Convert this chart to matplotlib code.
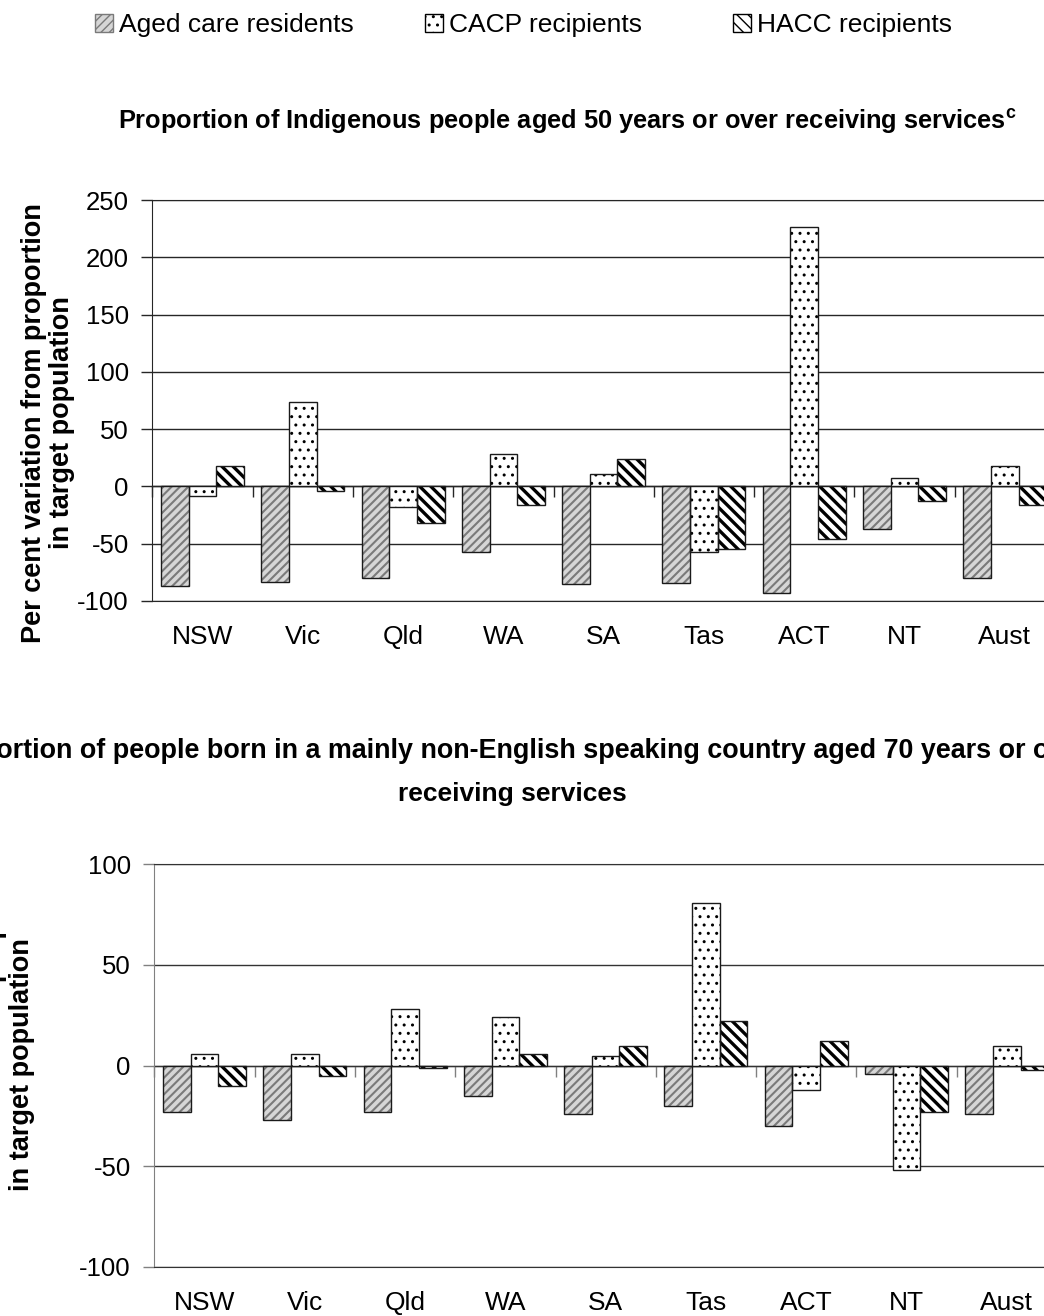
import matplotlib
matplotlib.use("Agg")
import matplotlib.pyplot as plt
import numpy as np
from matplotlib.patches import Patch

# Data
regions = ["NSW", "Vic", "Qld", "WA", "SA", "Tas", "ACT", "NT", "Aust"]
series_names = ["Aged care residents", "CACP recipients", "HACC recipients"]

indig_aged = [-87, -83, -80, -57, -85, -84, -93, -37, -80]
indig_cacp = [-8, 74, -18, 28, 11, -57, 226, 7, 18]
indig_hacc = [18, -4, -32, -16, 24, -55, -46, -13, -16]

nesb_aged = [-23, -27, -23, -15, -24, -20, -30, -4, -24]
nesb_cacp = [6, 6, 28, 24, 5, 81, -12, -52, 10]
nesb_hacc = [-10, -5, -1, 6, 10, 22, 12, -23, -2]

top_ticks = [-100, -50, 0, 50, 100, 150, 200, 250]
bottom_ticks = [-100, -50, 0, 50, 100]

FONT = "Liberation Sans"
W, H = 1044, 1316
BAR_W = 0.276

STYLES = [
    dict(face="#d6d6d6", hatch_color="#7a7a7a", hatch="////", hatch_lw=1.5),
    dict(face="white", hatch_color="#000000", hatch="..", hatch_lw=1.0),
    dict(face="white", hatch_color="#000000", hatch="\\\\\\", hatch_lw=2.4),
]

plt.rcParams["font.family"] = FONT
plt.rcParams["axes.unicode_minus"] = False
plt.rcParams["mathtext.fontset"] = "custom"
plt.rcParams["mathtext.bf"] = FONT + ":bold"
plt.rcParams["mathtext.rm"] = FONT


def px_box(left, top, right, bottom):
    return [left / W, 1 - bottom / H, (right - left) / W, (bottom - top) / H]


def draw_panel(ax, series, ticks, line_color, axis_color):
    x = np.arange(len(regions))
    for i, (values, style) in enumerate(zip(series, STYLES)):
        pos = x + (i - 1) * BAR_W
        bars = ax.bar(pos, values, BAR_W, color=style["face"],
                      edgecolor=style["hatch_color"], hatch=style["hatch"],
                      linewidth=0, zorder=2)
        for b in bars:
            if hasattr(b, "set_hatch_linewidth"):
                b.set_hatch_linewidth(style["hatch_lw"])
        ax.bar(pos, values, BAR_W, fill=False, edgecolor="#1a1a1a",
               linewidth=1.0, zorder=3)

    ax.set_xlim(-0.5, len(regions) - 0.5)
    ax.set_ylim(ticks[0], ticks[-1])
    ax.set_yticks(ticks)
    ax.set_xticks(x)
    ax.set_xticklabels(regions)
    ax.yaxis.grid(True, color=line_color, linewidth=1.0, zorder=0)
    ax.set_axisbelow(True)
    ax.spines["right"].set_visible(False)
    ax.spines["top"].set_color(line_color)
    ax.spines["bottom"].set_color(line_color)
    ax.spines["left"].set_color(axis_color)
    ax.tick_params(axis="x", length=0, pad=17, labelsize=19)
    ax.tick_params(axis="y", length=8, width=1.0, color=axis_color,
                   pad=9, labelsize=18.5)

    # category axis crosses at zero, with tick marks between categories
    zero = ax.secondary_xaxis(0, transform=ax.transData)
    zero.set_xticks(np.arange(len(regions) + 1) - 0.5)
    zero.set_xticklabels([])
    zero.tick_params(axis="x", direction="out", length=8, width=1.0,
                     color=axis_color)
    zero.spines["bottom"].set_color(axis_color)
    zero.spines["bottom"].set_linewidth(1.0)


fig = plt.figure(figsize=(W / 100, H / 100), dpi=100)

ax1 = fig.add_axes(px_box(152.3, 200, 1055, 601))
draw_panel(ax1, [indig_aged, indig_cacp, indig_hacc], top_ticks,
           "#262626", "#262626")

ax2 = fig.add_axes(px_box(154.3, 864.3, 1057, 1267))
draw_panel(ax2, [nesb_aged, nesb_cacp, nesb_hacc], bottom_ticks,
           "#333333", "#808080")

# legend, one entry per series placed like the original
legend_x = [95, 425, 733]
for name, style, lx in zip(series_names, STYLES, legend_x):
    handle = Patch(facecolor=style["face"], edgecolor=style["hatch_color"],
                   hatch=style["hatch"], linewidth=1.0)
    fig.legend([handle], [name], loc="center left",
               bbox_to_anchor=(lx / W, 1 - 25 / H), frameon=False,
               borderpad=0, borderaxespad=0, handlelength=0.7,
               handleheight=0.7, handletextpad=0.2,
               prop={"family": FONT, "size": 19})

fig.text(567 / W, 1 - 122 / H,
         r"Proportion of Indigenous people aged 50 years or over receiving services$^{\mathbf{c}}$",
         ha="center", va="center", fontsize=18.3, fontweight="bold")
fig.text(512 / W, 1 - 751 / H,
         "Proportion of people born in a mainly non-English speaking country aged 70 years or over",
         ha="center", va="center", fontsize=19.4, fontweight="bold")
fig.text(512 / W, 1 - 794 / H, "receiving services",
         ha="center", va="center", fontsize=19, fontweight="bold")

ylabel = "Per cent variation from proportion\nin target population"
fig.text(48 / W, 1 - 423 / H, ylabel, rotation=90, ha="center", va="center",
         fontsize=19.5, fontweight="bold", linespacing=1.1)
fig.text(8 / W, 1 - 1065 / H, ylabel, rotation=90, ha="center", va="center",
         fontsize=19.5, fontweight="bold", linespacing=1.1)

fig.savefig("out.png", dpi=100)
